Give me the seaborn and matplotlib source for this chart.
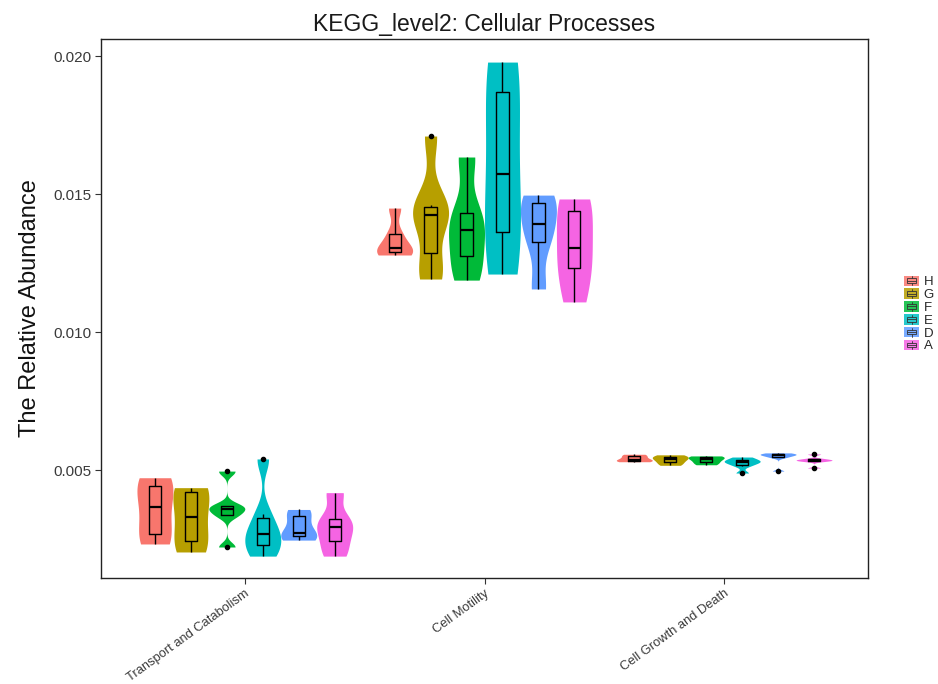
import numpy as np
import pandas as pd
import matplotlib
matplotlib.use("Agg")
import matplotlib.pyplot as plt
from matplotlib.patches import Rectangle
from matplotlib.lines import Line2D
from matplotlib.legend_handler import HandlerBase
import seaborn as sns

# Samples per KEGG level-2 category, keyed by group
categories = ["Transport and Catabolism", "Cell Motility", "Cell Growth and Death"]
groups = ["H", "G", "F", "E", "D", "A"]
colors = ["#F8766D", "#B79F00", "#00BA38", "#00BFC4", "#619CFF", "#F564E3"]

transport_catabolism = {
    "H": [0.00232, 0.00268, 0.00366, 0.00442, 0.00472],
    "G": [0.00203, 0.00243, 0.00330, 0.00420, 0.00436],
    "F": [0.00221, 0.00336, 0.00359, 0.00370, 0.00496],
    "E": [0.00188, 0.00215, 0.00262, 0.00275, 0.00341, 0.00540],
    "D": [0.00246, 0.00261, 0.00272, 0.00333, 0.00357],
    "A": [0.00188, 0.00243, 0.00293, 0.00322, 0.00418],
}
cell_motility = {
    "H": [0.01279, 0.01290, 0.01304, 0.01355, 0.01449],
    "G": [0.01192, 0.01245, 0.01415, 0.01433, 0.01460, 0.01710],
    "F": [0.01188, 0.01275, 0.01370, 0.01431, 0.01634],
    "E": [0.01210, 0.01362, 0.01572, 0.01870, 0.01978],
    "D": [0.01156, 0.01326, 0.01391, 0.01467, 0.01496],
    "A": [0.01109, 0.01232, 0.01304, 0.01438, 0.01482],
}
cell_growth_death = {
    "H": [0.00530, 0.00534, 0.00538, 0.00550, 0.00557],
    "G": [0.00517, 0.00529, 0.00540, 0.00547, 0.00555],
    "F": [0.00519, 0.00529, 0.00540, 0.00547, 0.00551],
    "E": [0.00489, 0.00516, 0.00527, 0.00531, 0.00537, 0.00547],
    "D": [0.00496, 0.00546, 0.00552, 0.00556, 0.00558, 0.00562],
    "A": [0.00507, 0.00532, 0.00535, 0.00537, 0.00541, 0.00558],
}

rows = []
for cat, table in zip(categories, [transport_catabolism, cell_motility, cell_growth_death]):
    for g in groups:
        for v in table[g]:
            rows.append((cat, g, v))
df = pd.DataFrame(rows, columns=["Category", "Group", "Abundance"])


def nrd0(kde):
    """Silverman's rule of thumb (R's bw.nrd0) as a scipy bandwidth factor."""
    x = kde.dataset.ravel()
    sd = x.std(ddof=1)
    q75, q25 = np.percentile(x, [75, 25])
    lo = min(sd, (q75 - q25) / 1.34) or sd
    return 0.9 * lo * len(x) ** -0.2 / sd


sns.set_theme(style="white")
plt.rcParams["font.family"] = ["Liberation Sans", "DejaVu Sans"]

fig = plt.figure(figsize=(9.38, 6.84), dpi=100)
ax = fig.add_axes([101 / 938, 1 - 578 / 684, (868 - 101) / 938, (578 - 39) / 684])

sns.violinplot(
    data=df, x="Category", y="Abundance", hue="Group",
    order=categories, hue_order=groups, palette=colors,
    width=0.9, gap=0, cut=0, density_norm="width", inner=None,
    bw_method=nrd0, linewidth=0, saturation=1, legend=False, ax=ax,
)
sns.boxplot(
    data=df, x="Category", y="Abundance", hue="Group",
    order=categories, hue_order=groups, palette=["black"] * len(groups),
    width=0.9, gap=0.66, fill=False, whis=1.5, linewidth=1.0,
    showcaps=False,
    medianprops=dict(linewidth=1.6),
    flierprops=dict(marker="o", markersize=3, markerfacecolor="black",
                    markeredgecolor="black"),
    legend=False, ax=ax,
)

ax.set_xlim(-0.6, 2.6)
ax.set_ylim(0.001087, 0.020616)
ax.set_yticks([0.005, 0.010, 0.015, 0.020])
ax.set_yticklabels(["0.005", "0.010", "0.015", "0.020"])
ax.set_xlabel("")
ax.set_ylabel("The Relative Abundance", fontsize=17, labelpad=9, color="#111111")
ax.set_title("KEGG_level2: Cellular Processes", fontsize=16.5, color="#1a1a1a", pad=6)

ax.tick_params(axis="both", direction="out", length=4, width=0.8, color="#333333",
               bottom=True, left=True)
ax.tick_params(axis="y", labelsize=11, labelcolor="#3a3a3a", pad=3)
ax.tick_params(axis="x", labelsize=9.3, labelcolor="#3a3a3a", pad=3)
for lab in ax.get_xticklabels():
    lab.set_rotation(36)
    lab.set_ha("right")
    lab.set_va("top")
    lab.set_rotation_mode("anchor")
for sp in ax.spines.values():
    sp.set_color("#222222")
    sp.set_linewidth(1.0)
ax.grid(False)


class ViolinBoxKey(HandlerBase):
    def create_artists(self, legend, orig_handle, xdescent, ydescent,
                       width, height, fontsize, trans):
        x0, y0 = -xdescent, -ydescent
        fc = orig_handle.get_facecolor()
        bg = Rectangle((x0, y0), width, height, facecolor=fc, edgecolor="none",
                       alpha=0.85, transform=trans)
        cx = x0 + width / 2
        box = Rectangle((x0 + width * 0.18, y0 + height * 0.28), width * 0.64,
                        height * 0.44, facecolor="none", edgecolor="#333333",
                        lw=0.6, transform=trans)
        med = Line2D([x0 + width * 0.18, x0 + width * 0.82], [y0 + height / 2] * 2,
                     color="#333333", lw=0.6, transform=trans)
        w1 = Line2D([cx, cx], [y0 + height * 0.08, y0 + height * 0.28],
                    color="#333333", lw=0.6, transform=trans)
        w2 = Line2D([cx, cx], [y0 + height * 0.72, y0 + height * 0.92],
                    color="#333333", lw=0.6, transform=trans)
        return [bg, box, med, w1, w2]


handles = [Rectangle((0, 0), 1, 1, facecolor=c) for c in colors]
fig.legend(handles, groups, handler_map={Rectangle: ViolinBoxKey()},
           loc="center left", bbox_to_anchor=(904 / 938, 1 - 314 / 684),
           frameon=False, fontsize=9.5, handlelength=1.15, handleheight=0.85,
           labelspacing=0.0, handletextpad=0.35, borderpad=0, borderaxespad=0)

fig.savefig("out.png", dpi=100)
